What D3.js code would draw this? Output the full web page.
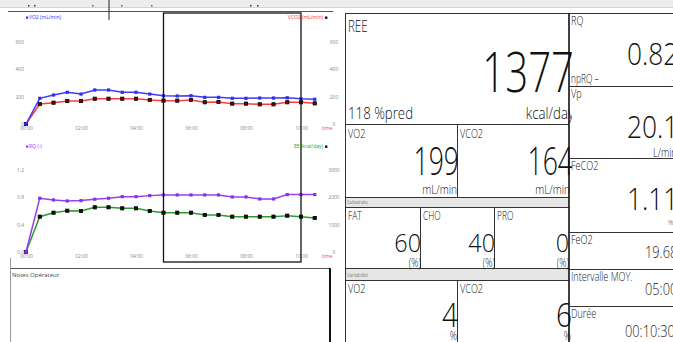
<!DOCTYPE html>
<html>
<head>
<meta charset="utf-8">
<script src="https://cdn.jsdelivr.net/npm/d3@7/dist/d3.min.js"></script>
<style>
  html, body { margin: 0; padding: 0; background: #fff; }
  svg { display: block; font-family: "Open Sans", "DejaVu Sans", sans-serif; }
</style>
</head>
<body>
<svg id="screen" width="673" height="342"></svg>
<script>
// ---- Measurement series (one point every 30 s) ----
const minutes = [0,0.5,1,1.5,2,2.5,3,3.5,4,4.5,5,5.5,6,6.5,7,7.5,8,8.5,9,9.5,10,10.5];
const vo2  = [0,188,212,232,219,249,249,232,232,219,207,205,207,195,195,188,188,190,190,192,185,181];
const vco2 = [0,146,156,168,168,185,185,185,185,176,171,171,176,159,161,149,149,144,144,159,159,151];
const rq   = [0,0.787,0.762,0.747,0.752,0.772,0.787,0.81,0.81,0.825,0.835,0.835,0.835,0.835,0.835,0.806,0.806,0.776,0.776,0.84,0.84,0.84];
const ee   = [0,1293,1438,1512,1500,1635,1635,1598,1598,1500,1438,1438,1438,1354,1354,1293,1293,1293,1293,1330,1293,1244];

// Axis ticks
const timeTicks = [0,2,4,6,8,10];
const timeTickLabels = ["00:00","02:00","04:00","06:00","08:00","10:00"];
const gasTicks = [0,200,400,600];
const rqTicks = [0,0.4,0.8,1.2];
const eeTicks = [0,1000,2000,3000];

// Steady-state window (minutes) and cursor
const steadyWindow = [5,10];
const cursorMinute = 3;

// Summary values of the measurement
const reeValue = ["1377"];
const reePred = ["118 %pred"];
const gasMeans = ["199","164"];
const substrates = [["FAT","60"],["CHO","40"],["PRO","0"]];
const variability = [["VO2","4"],["VCO2","6"]];
const sideValues = [
  {name:"RQ", value:"0.82"},
  {name:"Vp", value:"20.1"},
  {name:"FeCO2", value:"1.11"},
  {name:"FeO2", value:"19.68"},
  {name:"Intervalle MOY.", value:"05:00"},
  {name:"Durée", value:"00:10:30"}
];

const svg = d3.select("#screen");

// condensed text helper
function label(parent, x, y, s, size, sx, anchor, fill, weight) {
  return parent.append("text")
    .attr("transform", `translate(${x},${y}) scale(${sx},1)`)
    .attr("text-anchor", anchor || "start")
    .attr("font-size", size)
    .attr("font-weight", weight || 300)
    .attr("fill", fill || "#111")
    .text(s);
}

// ---- Window chrome ----
svg.append("rect").attr("x",0).attr("y",0).attr("width",673).attr("height",7).attr("fill","#ededed");
svg.append("line").attr("x1",0).attr("x2",673).attr("y1",7.5).attr("y2",7.5).attr("stroke","#d4d4d4");
[[28,"#333"],[34,"#333"],[92,"#e33"],[121,"#e33"],[151,"#e33"],[250,"#333"],[257,"#333"]].forEach(d => {
  svg.append("rect").attr("x",d[0]).attr("y",5).attr("width",1.5).attr("height",1.5).attr("fill",d[1]);
});
svg.append("line").attr("x1",8).attr("x2",333).attr("y1",11.5).attr("y2",11.5).attr("stroke","#555");

// ---- Charts ----
const x = d3.scaleLinear().domain([0,10]).range([26,301]);
const yGas = d3.scaleLinear().domain([0,600]).range([124,42]);
const yRq = d3.scaleLinear().domain([0,1.2]).range([252,170]);
const yEe = d3.scaleLinear().domain([0,3000]).range([252,170]);

function styleAxis(g) {
  g.select(".domain").remove();
  g.selectAll("text").attr("font-size",5).attr("fill","#888").attr("font-family","'Open Sans', sans-serif");
}

function timeAxis(y) {
  const g = svg.append("g").attr("transform",`translate(0,${y})`)
    .call(d3.axisBottom(x).tickValues(timeTicks).tickSize(0).tickPadding(0)
      .tickFormat((d,i) => timeTickLabels[i]));
  styleAxis(g);
  svg.append("text").attr("x",327).attr("y",y+3.6).attr("text-anchor","middle")
    .attr("font-size",5).attr("fill","#e05050").text("time");
}

function leftAxis(scale, ticks, fmt) {
  const g = svg.append("g").attr("transform","translate(24,0)")
    .call(d3.axisLeft(scale).tickValues(ticks).tickSize(0).tickPadding(0).tickFormat(fmt));
  styleAxis(g);
}
function rightAxis(scale, ticks, fmt) {
  const g = svg.append("g").attr("transform","translate(334,0)")
    .call(d3.axisRight(scale).tickValues(ticks).tickSize(0).tickPadding(0).tickFormat(fmt));
  styleAxis(g);
  g.selectAll("text").attr("text-anchor","middle").attr("x",0);
}

function series(values, yScale, lineColor, markerFill, markerStroke) {
  const pts = minutes.map((m,i) => [m, values[i]]);
  const line = d3.line().x(d => x(d[0])).y(d => yScale(d[1]));
  svg.append("path").datum(pts).attr("d",line).attr("fill","none")
    .attr("stroke",lineColor).attr("stroke-width",1.5);
  svg.append("g").selectAll("rect").data(pts).join("rect")
    .attr("x", d => x(d[0]) - 1.6).attr("y", d => yScale(d[1]) - 1.6)
    .attr("width",3.2).attr("height",3.2)
    .attr("fill",markerFill).attr("stroke",markerStroke || "none").attr("stroke-width",0.8);
}

// top: VO2 / VCO2
leftAxis(yGas, gasTicks, d3.format("d"));
rightAxis(yGas, gasTicks, d3.format("d"));
timeAxis(126);
series(vco2, yGas, "#ff3b3b", "#5a1010", "#000");
series(vo2, yGas, "#3c3cff", "#2f2fee");
svg.append("rect").attr("x",26).attr("y",16.5).attr("width",2.2).attr("height",2.2).attr("fill","#33f");
svg.append("text").attr("x",29).attr("y",19).attr("font-size",5).attr("fill","#33f").text("VO2 (mL/min)");
svg.append("text").attr("x",323).attr("y",19).attr("font-size",5).attr("fill","#f33").attr("text-anchor","end").text("VCO2 (mL/min)");
svg.append("rect").attr("x",325).attr("y",16.5).attr("width",2.4).attr("height",2.4).attr("fill","#111");

// bottom: RQ / EE
leftAxis(yRq, rqTicks, d3.format(".1f"));
rightAxis(yEe, eeTicks, d3.format("d"));
timeAxis(254);
series(ee, yEe, "#2f9a2f", "#111", "#000");
series(rq, yRq, "#9a3cf0", "#8a30e8");
svg.append("rect").attr("x",26).attr("y",145.5).attr("width",2.2).attr("height",2.2).attr("fill","#93f");
svg.append("text").attr("x",29).attr("y",148).attr("font-size",5).attr("fill","#93f").text("RQ (-)");
svg.append("text").attr("x",323).attr("y",148).attr("font-size",5).attr("fill","#2a2").attr("text-anchor","end").text("EE (kcal/day)");
svg.append("rect").attr("x",325).attr("y",145.5).attr("width",2.4).attr("height",2.4).attr("fill","#111");

// steady-state window and cursor
svg.append("rect").attr("x",x(steadyWindow[0])).attr("y",13)
  .attr("width",x(steadyWindow[1]) - x(steadyWindow[0])).attr("height",249)
  .attr("fill","none").attr("stroke","#111").attr("stroke-width",1.3);
svg.append("line").attr("x1",x(cursorMinute)+0.5).attr("x2",x(cursorMinute)+0.5).attr("y1",0).attr("y2",20)
  .attr("stroke","#222").attr("stroke-width",1);

// notes box
svg.append("line").attr("x1",10).attr("x2",330).attr("y1",268.5).attr("y2",268.5).attr("stroke","#555");
svg.append("line").attr("x1",10.5).attr("x2",10.5).attr("y1",258).attr("y2",342).attr("stroke","#999");
svg.append("line").attr("x1",330).attr("x2",330).attr("y1",268).attr("y2",342).attr("stroke","#111").attr("stroke-width",2);
svg.append("text").attr("x",12).attr("y",277).attr("font-size",6).attr("fill","#444").text("Notes Opérateur");

// ---- Results panel ----
const panel = svg.append("g");
const lineIn = (g,x1,y1,x2,y2,c,w) => g.append("line").attr("x1",x1).attr("y1",y1).attr("x2",x2).attr("y2",y2)
  .attr("stroke",c||"#333").attr("stroke-width",w||1);

// grey section bands
panel.append("rect").attr("x",345).attr("y",197).attr("width",224).attr("height",10).attr("fill","#e6e6e6");
panel.append("rect").attr("x",345).attr("y",268).attr("width",224).attr("height",12).attr("fill","#e6e6e6");

lineIn(panel,345.5,13,345.5,342);
lineIn(panel,345,13.5,569,13.5);
lineIn(panel,345,124.5,569,124.5);
lineIn(panel,457.5,124,457.5,197);
lineIn(panel,345,197.5,569,197.5);
lineIn(panel,345,207.5,569,207.5);
lineIn(panel,420.5,207,420.5,268);
lineIn(panel,494.5,207,494.5,268);
lineIn(panel,345,268.5,569,268.5);
lineIn(panel,345,280.5,569,280.5);
lineIn(panel,457.5,280,457.5,342);

svg.append("clipPath").attr("id","leftCells").append("rect").attr("x",340).attr("y",0).attr("width",232).attr("height",342);
const cells = panel.append("g").attr("clip-path","url(#leftCells)");

// REE
label(cells,348,32,"REE",16,0.72,"start","#111");
label(cells,574,92,reeValue[0],55,0.73,"end","#111",300);
label(cells,348,119,reePred[0],17,0.78,"start","#111");
label(cells,574,119,"kcal/day",17,0.78,"end","#111");

// VO2 / VCO2 means
label(cells,348,138,"VO2",13,0.7,"start");
label(cells,459,175,gasMeans[0],38,0.7,"end","#111",300);
label(cells,457,194,"mL/min",13,0.78,"end");
label(cells,460,138,"VCO2",13,0.7,"start");
label(cells,573,175,gasMeans[1],38,0.7,"end","#111",300);
label(cells,570,194,"mL/min",13,0.78,"end");

label(cells,347,204,"Substrats",6,0.8,"start","#333");
const subX = [[348,421],[423,495],[497,569]];
substrates.forEach((s,i) => {
  label(cells,subX[i][0],220,s[0],12,0.7,"start");
  label(cells,subX[i][1],252,s[1],26,0.9,"end","#111",300);
  label(cells,subX[i][1],267,"(%)",12,0.75,"end");
});

label(cells,347,277,"Variabilité",6,0.8,"start","#333");
const varX = [[348,458],[460,572]];
variability.forEach((v,i) => {
  label(cells,varX[i][0],293,v[0],13,0.7,"start");
  label(cells,varX[i][1],327,v[1],33,0.85,"end","#111",300);
  label(cells,varX[i][1]-1,340,"%",12,0.75,"end");
});

// right column
svg.append("rect").attr("x",572).attr("y",14).attr("width",101).attr("height",328).attr("fill","#fff");
const colLines = svg.append("g");
lineIn(colLines,569,13,569,342,"#111",1.6);
lineIn(colLines,569,13.5,673,13.5);
[86,158,232,269,306].forEach(y => lineIn(colLines,569,y+0.5,673,y+0.5));

const rightCol = svg.append("g");
const rowTop = [13,86,158,232,269,306];
// large values in the first three rows, smaller ones below
const bigBase = [65,138,210];
sideValues.forEach((d,i) => {
  label(rightCol,571,rowTop[i]+12,d.name,13,0.7,"start");
  if (i < 3) {
    label(rightCol,627,bigBase[i],d.value,31,0.85,"start","#111",300);
  } else {
    const base = [258,295,337][i-3];
    const xs = [645,645,625][i-3];
    label(rightCol,xs,base,d.value,16,0.8,"start","#222");
  }
});
label(rightCol,571,83,"npRQ –",12,0.7,"start");
label(rightCol,672,83,"-",8,0.8,"start","#444");
label(rightCol,653,157,"L/min",12,0.78,"start");
label(rightCol,668,225,"%",8,0.8,"start","#444");
</script>
</body>
</html>
